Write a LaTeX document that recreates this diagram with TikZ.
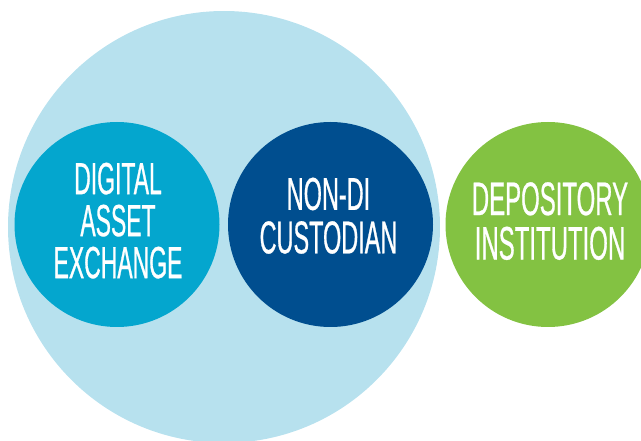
\documentclass[tikz,border=0pt]{standalone}
\usepackage{fontspec}
\newfontfamily\condfont[FakeStretch=0.51,FakeBold=0.6]{Liberation Sans}
\definecolor{paleblue}{HTML}{B7E1EE}
\definecolor{aquablue}{HTML}{04A6CE}
\definecolor{navyblue}{HTML}{004E8F}
\definecolor{leafgreen}{HTML}{83C242}
\tikzset{
  disc/.style={circle, draw=none, inner sep=0pt, minimum size=#1},
  lbl/.style={text=white, align=center, inner sep=0pt, anchor=north},
}
\begin{document}
\begin{tikzpicture}[x=1pt, y=-1pt]
\useasboundingbox (0,0) rectangle (641,441);
\clip (0,0) rectangle (641,441);
\node[disc=432pt, fill=paleblue] (big) at (224,227) {};
\node[disc=205pt, fill=aquablue] (dae) at (117,224.5) {};
\node[disc=205pt, fill=navyblue] (nondi) at (330.5,224.5) {};
\node[disc=205pt, fill=leafgreen] (dep) at (548,224.5) {};
\node[lbl, font=\condfont\fontsize{45}{42}\selectfont] (daetext) at (118,162.5) {DIGITAL\\ASSET\\EXCHANGE};
\node[lbl, font=\condfont\fontsize{46}{43.5}\selectfont] (nonditext) at (328.5,177.5) {NON-DI\\CUSTODIAN};
\node[lbl, font=\condfont\fontsize{47}{44.5}\selectfont] (deptext) at (550,182) {DEPOSITORY\\INSTITUTION};
\end{tikzpicture}
\end{document}
